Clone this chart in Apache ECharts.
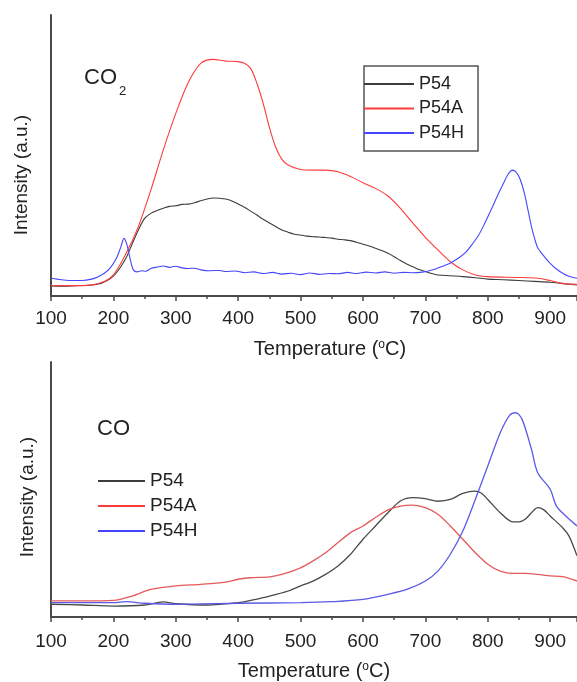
<!DOCTYPE html>
<html><head><meta charset="utf-8">
<script src="https://cdn.jsdelivr.net/npm/echarts@6/dist/echarts.min.js"></script>
<style>html,body{margin:0;padding:0;background:#fff}#c{width:577px;height:682px}</style>
</head><body><div id="c"></div>
<script>
const seriesNames = ['P54', 'P54A', 'P54H'];
const xMin = 100, xMax = 943, xStep = 100;

// CO2 panel: [temperature, intensity]
const co2_P54 = [[100,3.6],[120,3.5],[140,3.7],[160,3.8],[180,4.5],[190,5.5],[200,7.1],[210,9.8],[220,13.4],[230,18.5],[240,23.5],[250,27.6],[260,29.4],[270,30.4],[280,31.2],[290,31.9],[300,32.1],[310,32.6],[320,32.7],[330,33.2],[340,33.9],[350,34.5],[360,34.9],[370,34.8],[380,34.5],[390,33.8],[400,32.7],[410,31.6],[420,30.2],[430,28.8],[440,27.3],[450,26.0],[460,24.7],[470,23.5],[480,22.7],[490,22.0],[500,21.7],[510,21.3],[520,21.1],[530,21.0],[540,20.8],[550,20.6],[560,20.2],[570,20.0],[580,19.7],[590,19.1],[600,18.4],[610,17.8],[620,17.0],[630,16.2],[640,15.2],[650,14.0],[660,12.6],[670,11.4],[680,10.4],[690,9.4],[700,8.7],[710,8.0],[720,7.5],[740,7.2],[760,6.9],[780,6.5],[800,6.0],[825,5.8],[850,5.5],[875,5.2],[900,4.9],[920,4.4],[943,3.9]];
const co2_P54A = [[100,3.7],[150,3.7],[180,4.7],[200,7.5],[220,15],[240,24.7],[260,37.7],[280,52],[300,65],[320,76],[340,82.8],[360,84.2],[380,83.6],[400,83.4],[410,82.8],[420,81],[430,75.7],[440,68.6],[450,60],[460,53],[470,48.6],[480,46.6],[500,45],[520,44.8],[540,44.8],[560,44.2],[580,42.5],[600,40.3],[620,38.3],[640,35.6],[660,31.2],[680,25.9],[700,20.9],[720,16.4],[740,12.2],[760,9.3],[780,7.5],[800,6.9],[850,6.6],[880,6.3],[900,5.5],[920,4.5],[943,4.2]];
const co2_P54H = [[100,6.3],[110,6.0],[120,5.7],[135,5.5],[150,5.5],[165,6.0],[175,6.8],[185,8.0],[195,10.0],[205,13.5],[212,17.5],[217,20.5],[222,18],[227,13],[232,9.3],[238,8.6],[245,9.0],[252,8.8],[260,9.8],[270,10.3],[280,10.7],[290,10.2],[300,10.6],[310,10.0],[320,9.8],[330,9.9],[340,9.3],[355,9.0],[370,9.1],[380,8.7],[395,8.9],[410,8.3],[425,8.6],[440,8.0],[455,8.4],[470,7.8],[485,8.1],[500,7.6],[515,8.2],[530,7.7],[545,8.0],[560,7.9],[575,8.4],[590,8.0],[605,8.5],[620,8.2],[635,8.6],[650,8.1],[665,8.4],[680,8.3],[695,8.5],[705,8.9],[715,9.5],[725,10.4],[735,11.2],[745,12.4],[755,13.8],[765,15.6],[775,18.4],[785,21.5],[795,25.8],[805,30.5],[815,35.4],[825,40.0],[833,43.5],[840,44.8],[845,44.2],[850,42.5],[855,39.5],[860,35.3],[865,30],[870,24.7],[875,20.5],[880,17.2],[890,14.2],[900,11.6],[910,9.6],[920,8.1],[930,7.0],[943,6.3]];

// CO panel
const co_P54 = [[100,5.0],[150,4.7],[200,4.3],[250,4.7],[280,5.9],[300,5.2],[350,4.7],[400,5.6],[420,6.5],[440,7.6],[460,8.8],[480,10.2],[500,12.2],[520,14.1],[540,16.7],[560,20],[580,24.6],[600,30.5],[620,35.7],[640,40.9],[660,45.5],[680,46.8],[700,46.4],[720,45.4],[740,46.1],[760,48.5],[780,49.4],[790,48.5],[800,46.1],[820,40.9],[840,37.3],[850,37.3],[860,38.3],[870,40.9],[880,42.9],[890,42],[900,39.6],[920,35],[930,31.8],[943,24]];
const co_P54A = [[100,6.3],[150,6.3],[200,6.5],[230,8.2],[260,10.8],[300,12.2],[340,12.8],[380,13.7],[400,14.8],[420,15.4],[450,15.7],[470,16.7],[500,19.3],[520,22],[540,25.2],[560,29.2],[580,33.1],[600,35.7],[620,39],[640,42],[660,43.5],[680,43.9],[700,42.9],[720,40.3],[740,35.7],[760,30.5],[780,25.2],[800,20.7],[820,18],[840,17.1],[860,17.1],[880,16.7],[900,16.1],[920,15.8],[943,14.1]];
const co_P54H = [[100,5.6],[200,5.6],[220,6],[250,5.4],[300,5],[400,5.4],[500,5.6],[550,6],[600,6.9],[640,8.9],[670,10.8],[700,14.1],[720,18],[740,24.6],[760,33.7],[780,46.1],[800,59.2],[820,72.3],[835,79.1],[845,80.1],[855,77.5],[870,65.8],[880,56.6],[900,50.1],[910,43.5],[925,39.6],[943,35.7]];

const topColors = ['#3c3c3c', '#ff3b3b', '#4646ff'];
const botColors = ['#4a4a4a', '#e45a5a', '#5a5ae6'];
const FONT = '"Liberation Sans", Arial, sans-serif';
const axisColor = '#4a4a4a';

function xAxisDef(gridIndex, margin, nameGap, namePad) {
  return {
    type: 'value', gridIndex, min: xMin, max: xMax, interval: xStep,
    axisLine: { show: true, onZero: false, lineStyle: { color: axisColor, width: 2 } },
    axisTick: { show: true, inside: false, length: 5, lineStyle: { color: axisColor, width: 1.5 } },
    minorTick: { show: true, splitNumber: 2, length: 3, lineStyle: { color: axisColor, width: 1.5 } },
    splitLine: { show: false },
    axisLabel: { show: true, margin, showMaxLabel: false, fontFamily: FONT, fontSize: 19, color: '#222' },
    name: 'Temperature ({sup|o}C)', nameLocation: 'middle', nameGap,
    nameTextStyle: { fontFamily: FONT, fontSize: 20, color: '#222', padding: namePad,
      rich: { sup: { fontFamily: FONT, fontSize: 12, color: '#222', verticalAlign: 'top', lineHeight: 20 } } }
  };
}
function yAxisDef(gridIndex) {
  return {
    type: 'value', gridIndex, min: 0, max: 100,
    axisLine: { show: true, lineStyle: { color: axisColor, width: 2 } },
    axisTick: { show: false }, axisLabel: { show: false }, splitLine: { show: false }
  };
}
function lineSeries(name, data, color, idx, width) {
  return {
    type: 'line', name, data, xAxisIndex: idx, yAxisIndex: idx,
    showSymbol: false, symbol: 'none', smooth: 0.3,
    lineStyle: { color, width }, itemStyle: { color }
  };
}

const chart = echarts.init(document.getElementById('c'), null, { renderer: 'canvas' });
chart.setOption({
  animation: false,
  backgroundColor: '#fff',
  grid: [
    { left: 51, top: 15, right: 0, height: 281 },
    { left: 51, top: 362, right: 0, height: 256 }
  ],
  xAxis: [xAxisDef(0, 13, 43, [0, 0, 0, 32]), xAxisDef(1, 15, 44, [0, 0, 0, 0])],
  yAxis: [yAxisDef(0), yAxisDef(1)],
  legend: [
    { data: seriesNames, orient: 'vertical', left: 364, top: 66, padding: [8, 14, 8, 0],
      borderColor: '#555', borderWidth: 1.5, icon: 'rect', itemWidth: 50, itemHeight: 2, itemGap: 4.5,
      textStyle: { fontFamily: FONT, fontSize: 18, color: '#222', lineHeight: 20 }, selectedMode: false },
    { data: seriesNames, orient: 'vertical', left: 98, top: 471, padding: 0,
      icon: 'rect', itemWidth: 47, itemHeight: 2, itemGap: 5,
      textStyle: { fontFamily: FONT, fontSize: 19, color: '#222', lineHeight: 20 }, selectedMode: false }
  ],
  series: [
    lineSeries(seriesNames[0], co2_P54, topColors[0], 0, 1.1),
    lineSeries(seriesNames[1], co2_P54A, topColors[1], 0, 1.1),
    lineSeries(seriesNames[2], co2_P54H, topColors[2], 0, 1.1),
    lineSeries(seriesNames[0], co_P54, botColors[0], 1, 1.3),
    lineSeries(seriesNames[1], co_P54A, botColors[1], 1, 1.3),
    lineSeries(seriesNames[2], co_P54H, botColors[2], 1, 1.3)
  ],
  graphic: [
    { type: 'text', x: 22, y: 175, rotation: Math.PI / 2, style: { text: 'Intensity (a.u.)', fontFamily: FONT, fontSize: 19, fill: '#222', align: 'center', verticalAlign: 'middle' } },
    { type: 'text', x: 28, y: 497, rotation: Math.PI / 2, style: { text: 'Intensity (a.u.)', fontFamily: FONT, fontSize: 19, fill: '#222', align: 'center', verticalAlign: 'middle' } },
    { type: 'text', x: 84, y: 78, style: { text: 'CO', fontFamily: FONT, fontSize: 22, fill: '#222', align: 'left', verticalAlign: 'middle' } },
    { type: 'text', x: 119, y: 91, style: { text: '2', fontFamily: FONT, fontSize: 13, fill: '#222', align: 'left', verticalAlign: 'middle' } },
    { type: 'text', x: 97, y: 429, style: { text: 'CO', fontFamily: FONT, fontSize: 22, fill: '#222', align: 'left', verticalAlign: 'middle' } }
  ]
});
</script>
</body></html>
